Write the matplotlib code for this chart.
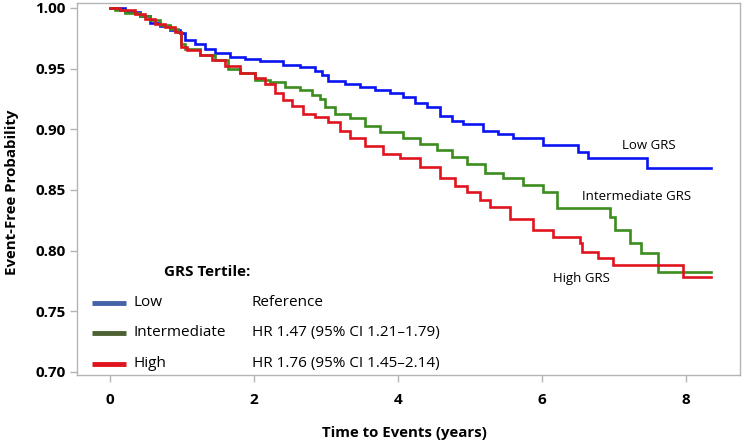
import matplotlib
matplotlib.use("Agg")
import matplotlib.pyplot as plt
from matplotlib.lines import Line2D

# ---- data ----
low_t = [0, 0.21, 0.42, 0.56, 0.69, 0.83, 0.97, 1.04, 1.18, 1.32, 1.46, 1.67, 1.88, 2.08, 2.40,
         2.64, 2.85, 2.94, 3.03, 3.26, 3.47, 3.68, 3.89, 4.07, 4.24, 4.40, 4.58, 4.75, 4.90, 5.18,
         5.39, 5.60, 6.01, 6.50, 6.64, 7.46, 8.35]
low_s = [1.000, 0.997, 0.993, 0.988, 0.985, 0.982, 0.979, 0.974, 0.970, 0.966, 0.963, 0.960, 0.958,
         0.956, 0.953, 0.951, 0.948, 0.945, 0.940, 0.937, 0.935, 0.932, 0.930, 0.927, 0.922, 0.918,
         0.911, 0.907, 0.904, 0.899, 0.896, 0.893, 0.887, 0.881, 0.876, 0.868, 0.868]

int_t = [0, 0.07, 0.21, 0.42, 0.56, 0.69, 0.83, 0.94, 0.99, 1.04, 1.25, 1.46, 1.64, 1.81, 2.01,
         2.22, 2.43, 2.64, 2.81, 2.92, 2.99, 3.13, 3.33, 3.54, 3.75, 4.07, 4.31, 4.54, 4.75, 4.96,
         5.21, 5.46, 5.74, 6.01, 6.21, 6.94, 7.01, 7.22, 7.38, 7.61, 8.35]
int_s = [1.000, 0.998, 0.996, 0.993, 0.990, 0.986, 0.983, 0.980, 0.970, 0.966, 0.961, 0.957, 0.950,
         0.946, 0.941, 0.939, 0.935, 0.932, 0.928, 0.925, 0.918, 0.913, 0.909, 0.903, 0.898, 0.893,
         0.888, 0.883, 0.877, 0.871, 0.864, 0.860, 0.854, 0.848, 0.835, 0.828, 0.817, 0.806, 0.798,
         0.782, 0.782]

high_t = [0, 0.14, 0.35, 0.49, 0.62, 0.76, 0.90, 0.99, 1.07, 1.25, 1.42, 1.60, 1.81, 2.01, 2.15,
          2.29, 2.40, 2.53, 2.68, 2.85, 3.03, 3.19, 3.33, 3.54, 3.79, 4.03, 4.31, 4.58, 4.79, 4.96,
          5.14, 5.28, 5.56, 5.88, 6.15, 6.53, 6.56, 6.78, 6.99, 7.96, 8.35]
high_s = [1.000, 0.998, 0.995, 0.991, 0.987, 0.984, 0.980, 0.968, 0.965, 0.961, 0.957, 0.952, 0.946,
          0.942, 0.937, 0.930, 0.924, 0.919, 0.913, 0.910, 0.906, 0.899, 0.893, 0.886, 0.880, 0.876,
          0.869, 0.860, 0.853, 0.848, 0.842, 0.836, 0.826, 0.817, 0.811, 0.806, 0.799, 0.794, 0.788,
          0.778, 0.778]

groups = ["Low", "Intermediate", "High"]
hr_text = ["Reference", "HR 1.47 (95% CI 1.21\u20131.79)", "HR 1.76 (95% CI 1.45\u20132.14)"]
curve_labels = ["Low GRS", "Intermediate GRS", "High GRS"]
x_ticks = [0, 2, 4, 6, 8]
y_ticks = [0.70, 0.75, 0.80, 0.85, 0.90, 0.95, 1.00]

curve_colors = ["#0a14f0", "#3c8c1e", "#e0141e"]
legend_colors = ["#4563a8", "#4d6232", "#e0141e"]

plt.rcParams['font.family'] = ['Open Sans', 'DejaVu Sans']

fig = plt.figure(figsize=(7.42, 4.45), dpi=100)
ax = fig.add_axes([77/742, 1-375/445, (740-77)/742, (375-3)/445])

for t, s, c in zip([low_t, int_t, high_t], [low_s, int_s, high_s], curve_colors):
    ax.step(t, s, where="post", color=c, lw=1.9, solid_joinstyle="miter")

ax.set_xlim(-0.458, 8.75)
ax.set_ylim(0.6975, 1.0041)
ax.set_xticks(x_ticks)
ax.set_yticks(y_ticks)
ax.set_xticklabels([str(v) for v in x_ticks], fontweight="bold", fontsize=11)
ax.set_yticklabels([f"{v:.2f}" for v in y_ticks], fontweight="bold", fontsize=11)
for sp in ax.spines.values():
    sp.set_color("#b4b4b4")
    sp.set_linewidth(1.0)
ax.tick_params(axis="both", color="#b4b4b4", length=5, width=1, direction="out")
ax.tick_params(axis="x", pad=8)
ax.tick_params(axis="y", pad=3)

fig.text(12/742, 1-192/445, "Event-Free Probability", rotation=90, ha="center", va="center",
         fontweight="bold", fontsize=10.8)
fig.text(404/742, 1-433/445, "Time to Events (years)", ha="center", va="center",
         fontweight="bold", fontsize=10.8)

# curve labels
ax.text((622-110)/72, 1-(146-8)*0.3/364, curve_labels[0], fontsize=9.5, va="center", ha="left")
ax.text((582-110)/72, 1-(197-8)*0.3/364, curve_labels[1], fontsize=9.5, va="center", ha="left")
ax.text((553-110)/72, 1-(279-8)*0.3/364, curve_labels[2], fontsize=9.5, va="center", ha="left")

# legend block
def px2data(px, py):
    return (px-110)/72, 1-(py-8)*0.3/364

tx, ty = px2data(207, 272)
ax.text(tx, ty, "GRS Tertile:", fontweight="bold", fontsize=11, ha="center", va="center")
rows_y = [303, 333, 364]
for g, hr, lc, ry in zip(groups, hr_text, legend_colors, rows_y):
    x0, y0 = px2data(92, ry)
    x1, _ = px2data(126, ry)
    ax.add_line(Line2D([x0, x1], [y0, y0], color=lc, lw=3.5, solid_capstyle="butt"))
    lx, _ = px2data(134, ry)
    ax.text(lx, y0, g, fontsize=11, va="center", ha="left")
    hx, _ = px2data(252, ry)
    ax.text(hx, y0, hr, fontsize=11, va="center", ha="left")

fig.savefig("out.png", dpi=100)
